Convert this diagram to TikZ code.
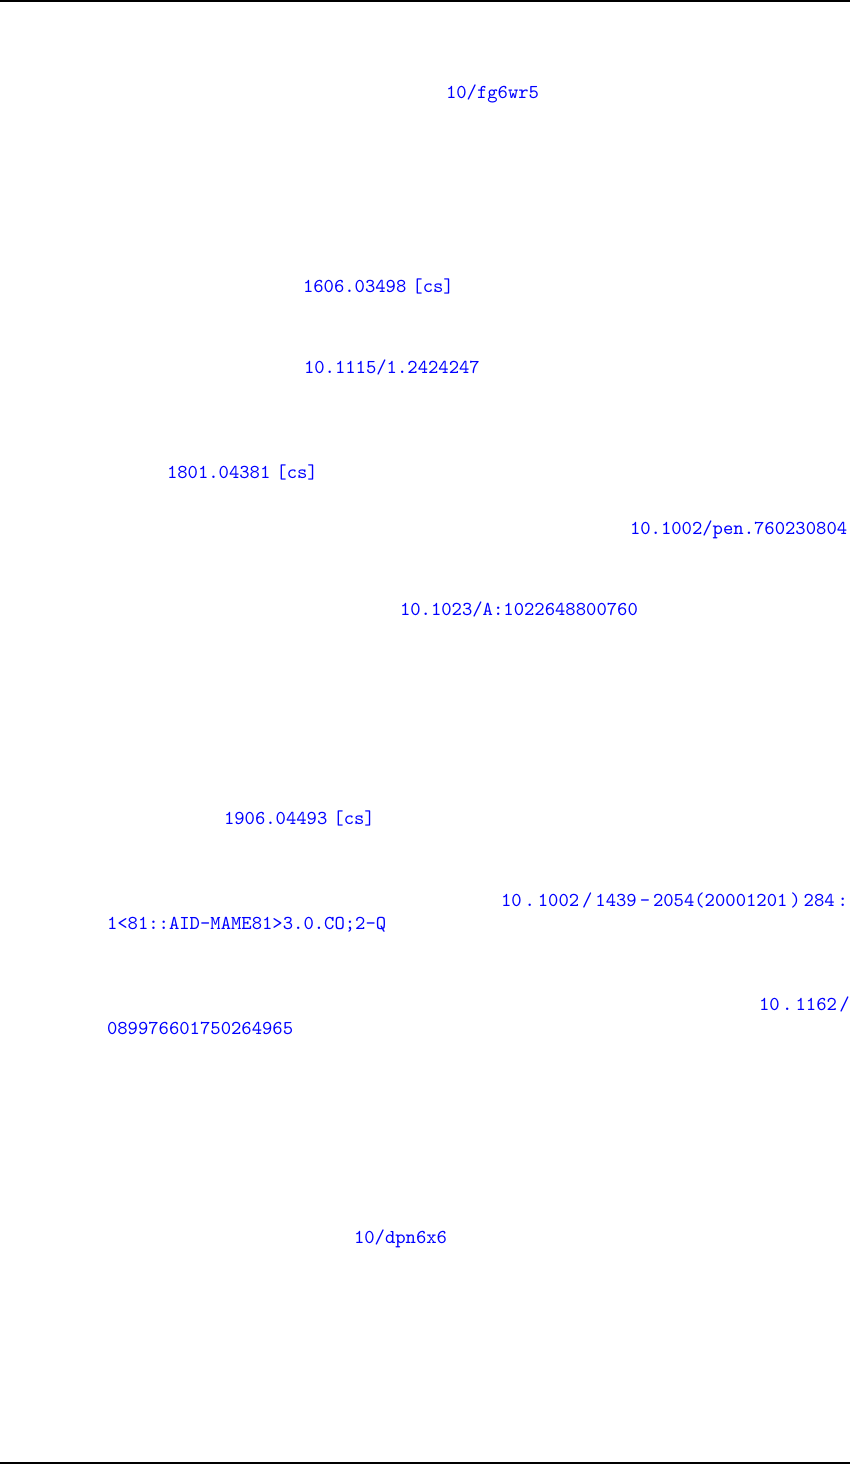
\documentclass[tikz,border=0pt]{standalone}
\usepackage{fontspec}
\definecolor{linkblue}{RGB}{0,0,255}
\begin{document}
\begin{tikzpicture}[x=0.5pt,y=-0.5pt,
  doi/.style={anchor=base west,inner sep=0pt,outer sep=0pt,text=linkblue,font=\fontsize{9.85pt}{12pt}\ttfamily},
  rulestyle/.style={line width=1pt,black}]
\useasboundingbox (0,0) rectangle (850,1464);
\coordinate (tl) at (0,1);
\coordinate (tr) at (850,1);
\coordinate (bl) at (0,1463);
\coordinate (br) at (850,1463);
\draw[rulestyle] (tl) -- (tr);
\draw[rulestyle] (bl) -- (br);
\node[doi] (d1) at (446,98) {10/fg6wr5};
\node[doi] (d2) at (303,292) {1606.03498\kern3pt[cs]};
\node[doi] (d3) at (304,373) {10.1115/1.2424247};
\node[doi] (d4) at (167,478) {1801.04381\kern3pt[cs]};
\node[doi] (d5) at (630,534) {10.1002/pen.760230804};
\node[doi] (d6) at (400,615) {10.1023/A:1022648800760};
\node[doi] (d7) at (224,824) {1906.04493\kern3pt[cs]};
\node[doi] (d8a) at (501,906) {\hbox to 173.5pt{10\hfil.\hfil1002\hfil/\hfil1439\hfil-\hfil2054(20001201\hfil)\hfil284\hfil:}};
\node[doi] (d8b) at (107,929) {1<81::AID-MAME81>3.0.CO;2-Q};
\node[doi] (d9a) at (759,1010) {10\kern1.2pt.\kern1.6pt1162\kern1.2pt/};
\node[doi] (d9b) at (107,1034) {089976601750264965};
\node[doi] (d10) at (354,1243) {10/dpn6x6};
\end{tikzpicture}
\end{document}
